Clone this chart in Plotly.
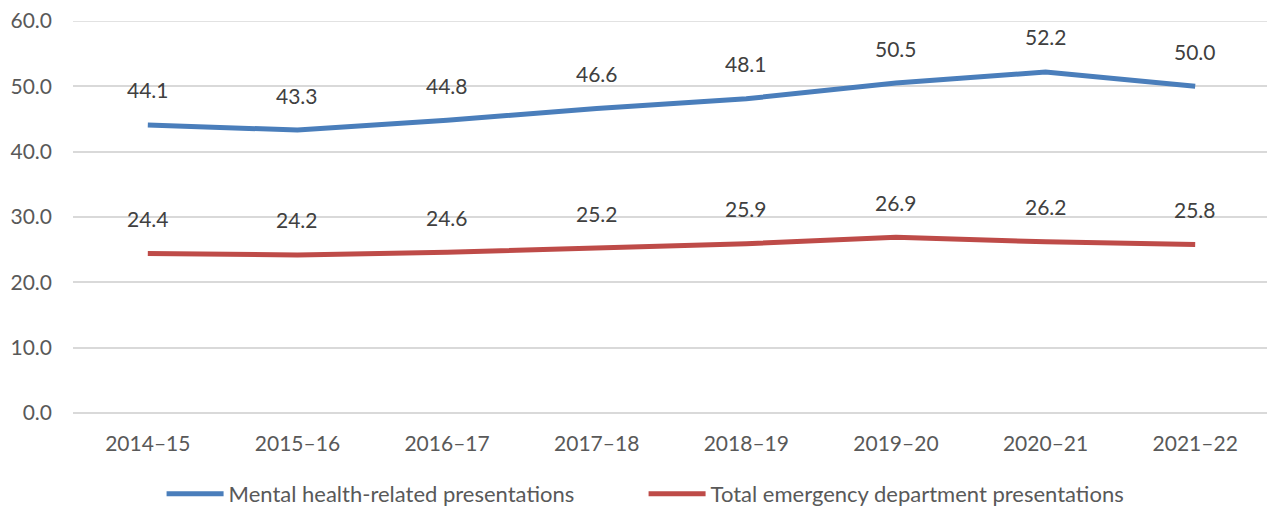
import plotly.graph_objects as go

years = ["2014–15", "2015–16", "2016–17", "2017–18", "2018–19", "2019–20", "2020–21", "2021–22"]
mental_health = [44.1, 43.3, 44.8, 46.6, 48.1, 50.5, 52.2, 50.0]
total_ed = [24.4, 24.2, 24.6, 25.2, 25.9, 26.9, 26.2, 25.8]
y_ticks = [0, 10, 20, 30, 40, 50, 60]

series = [
    ("Mental health-related presentations", mental_health, "#4A7EBB"),
    ("Total emergency department presentations", total_ed, "#BE4B48"),
]

FONT = "Lato, 'Open Sans', sans-serif"
TEXT_COLOR = "#595959"
GRID = "#D9D9D9"
SIZE = 21

fig = go.Figure()
for name, values, color in series:
    fig.add_trace(go.Scatter(
        x=years, y=values, name=name, mode="lines",
        line=dict(color=color, width=5),
    ))
    for yr, v in zip(years, values):
        fig.add_annotation(
            x=yr, y=v, text=f"{v:.1f}", showarrow=False, yshift=35,
            font=dict(family=FONT, size=SIZE, color="#404040"),
        )

# plotly skips the grid line on the top edge, draw it by hand
fig.add_shape(
    type="line", xref="paper", x0=0, x1=1, yref="y", y0=y_ticks[-1], y1=y_ticks[-1],
    line=dict(color=GRID, width=1.5), layer="below",
)

# page body adds ~8px offset, so the figure is sized a bit smaller than the window
fig.update_layout(
    width=1267, height=501,
    margin=dict(l=65, r=5, t=13, b=96),
    plot_bgcolor="white", paper_bgcolor="white",
    font=dict(family=FONT, size=SIZE, color=TEXT_COLOR),
    showlegend=True,
    legend=dict(
        orientation="h", x=0.074, xanchor="left",
        yref="container", y=0.03, yanchor="middle",
        font=dict(size=22, color=TEXT_COLOR), itemwidth=57,
        entrywidth=410, traceorder="normal",
    ),
)
fig.update_xaxes(
    type="category", range=[-0.5, 7.5], showgrid=False,
    showline=False, ticks="", ticklabelstandoff=16,
    tickfont=dict(size=SIZE, color=TEXT_COLOR), automargin=False,
)
fig.update_yaxes(
    range=[0, 60], tickvals=y_ticks, tickformat=".1f", showgrid=True,
    gridcolor=GRID, gridwidth=1.5, zeroline=True, zerolinecolor=GRID,
    zerolinewidth=1.5, showline=False, ticks="", ticklabelstandoff=20,
    ticklabeloverflow="allow",
    tickfont=dict(size=SIZE, color=TEXT_COLOR), automargin=False,
)

fig.write_html("out.html")
